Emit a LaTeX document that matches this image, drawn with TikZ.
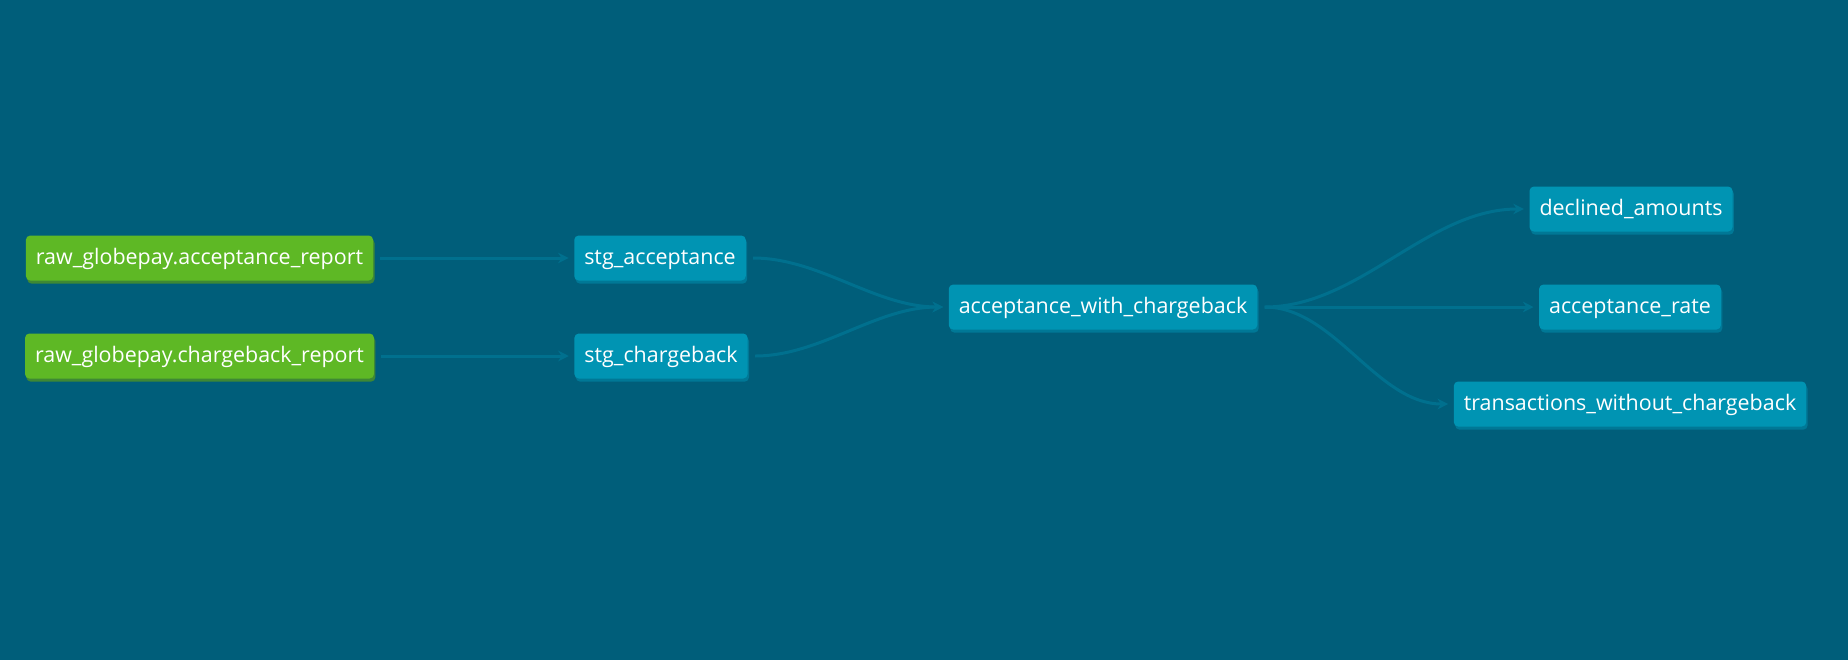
\documentclass[tikz,border=0pt]{standalone}
\usepackage{fontspec}
\setmainfont{Open Sans}
\usetikzlibrary{arrows.meta, positioning, shadows}

\definecolor{dagbg}{RGB}{0,94,122}
\definecolor{modelfill}{RGB}{0,148,179}
\definecolor{modelshadow}{RGB}{0,120,150}
\definecolor{sourcefill}{RGB}{94,184,37}
\definecolor{sourceshadow}{RGB}{62,136,52}
\definecolor{edgecol}{RGB}{0,112,142}

\begin{document}
\begin{tikzpicture}[
  x=0.02cm, y=-0.02cm,
  every node/.style={font=\fontsize{12.2}{14}\selectfont, text=white},
  box/.style={rectangle, rounded corners=2.5pt, align=center, inner xsep=0.2cm, text height=1.5ex, text depth=0.1ex, minimum height=0.9cm},
  model/.style={box, fill=modelfill, general shadow={fill=modelshadow, shadow xshift=0.8pt, shadow yshift=-1.8pt}},
  source/.style={box, fill=sourcefill, general shadow={fill=sourceshadow, shadow xshift=0.8pt, shadow yshift=-1.8pt}},
  arrow/.style={-{Stealth[length=6pt, width=6pt]}, edgecol, line width=1.7pt, shorten <=4pt, shorten >=3pt}
]

\fill[dagbg] (0,0) rectangle (1848,660);
\useasboundingbox (0,0) rectangle (1848,660);

% Source nodes
\node[source] (rawacc) at (199.5,258) {raw\_globepay.acceptance\_report};
\node[source] (rawchg) at (199.5,356) {raw\_globepay.chargeback\_report};

% Staging
\node[model] (stgacc) at (660,258) {stg\_acceptance};
\node[model] (stgchg) at (661,356) {stg\_chargeback};

% Joined model
\node[model] (awc) at (1103,307) {acceptance\_with\_chargeback};

% Output models
\node[model] (declined) at (1631,209) {declined\_amounts};
\node[model] (rate) at (1630,307) {acceptance\_rate};
\node[model] (txn) at (1630,404) {transactions\_without\_chargeback};

% Arrows
\draw[arrow] (rawacc) -- (stgacc);
\draw[arrow] (rawchg) -- (stgchg);
\draw[arrow] (stgacc.east) to[out=0, in=180, looseness=0.9] (awc.west);
\draw[arrow] (stgchg.east) to[out=0, in=180, looseness=0.9] (awc.west);
\draw[arrow] (awc.east) to[out=0, in=180, looseness=0.9] (declined.west);
\draw[arrow] (awc.east) -- (rate.west);
\draw[arrow] (awc.east) to[out=0, in=180, looseness=0.9] (txn.west);

\end{tikzpicture}
\end{document}
